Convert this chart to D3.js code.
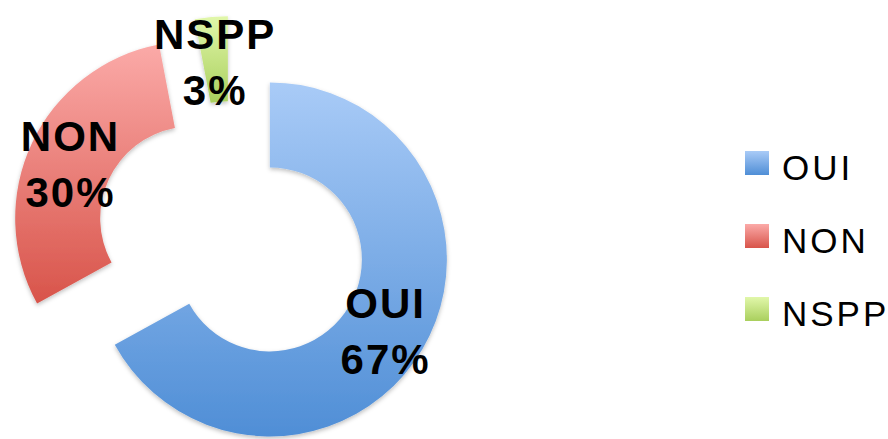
<!DOCTYPE html>
<html>
<head>
<meta charset="utf-8">
<script src="https://cdn.jsdelivr.net/npm/d3@7"></script>
<style>
  body { margin: 0; background: #fff; }
  svg { display: block; }
</style>
</head>
<body>
<svg id="chart" width="888" height="439"></svg>
<script>
const svg = d3.select("#chart"),
      width = +svg.attr("width"),
      height = +svg.attr("height");

// data
const categories = ["OUI", "NON", "NSPP"];
const values = [67, 30, 3];
const labels = ["67%", "30%", "3%"];
const topColors = ["#a9cbf7", "#fbaaa8", "#e1f7aa"];
const bottomColors = ["#4f8ed6", "#d8544a", "#a9cf5d"];

// geometry
const cx = 232, cy = 237;
const outerR = 177, innerR = 92;
const explode = 44;

const defs = svg.append("defs");

categories.forEach(function(c, i) {
  const g = defs.append("linearGradient")
      .attr("id", "grad" + i)
      .attr("x1", 0).attr("y1", 0)
      .attr("x2", 0).attr("y2", 1);
  g.append("stop").attr("offset", "0%").attr("stop-color", topColors[i]);
  g.append("stop").attr("offset", "100%").attr("stop-color", bottomColors[i]);
});

const shadow = defs.append("filter")
    .attr("id", "shadow")
    .attr("x", "-20%").attr("y", "-20%")
    .attr("width", "140%").attr("height", "140%");
shadow.append("feDropShadow")
    .attr("dx", 0).attr("dy", 2)
    .attr("stdDeviation", 2)
    .attr("flood-color", "#000")
    .attr("flood-opacity", 0.25);

const pie = d3.pie().sort(null).value(function(d) { return d; });
const arc = d3.arc().innerRadius(innerR).outerRadius(outerR);

const arcs = pie(values);

// Draw the exploded donut
const slices = svg.append("g")
    .selectAll("g")
    .data(arcs)
    .enter()
    .append("g")
    .attr("transform", function(d) {
      const mid = (d.startAngle + d.endAngle) / 2;
      const dx = Math.sin(mid) * explode,
            dy = -Math.cos(mid) * explode;
      return "translate(" + (cx + dx) + "," + (cy + dy) + ")";
    });

slices.append("path")
    .attr("d", arc)
    .attr("fill", function(d, i) { return "url(#grad" + i + ")"; })
    .attr("filter", "url(#shadow)");

// data labels
const lbl = slices.append("text")
    .attr("transform", function(d) {
      const c = arc.centroid(d);
      return "translate(" + c[0] + "," + c[1] + ")";
    })
    .attr("text-anchor", "middle")
    .style("font-family", "'Liberation Sans', Arial, sans-serif")
    .style("font-weight", "bold")
    .style("font-size", "42px")
    .style("letter-spacing", "2px")
    .attr("fill", "#000");

lbl.append("tspan")
    .attr("x", 0).attr("y", -10)
    .text(function(d, i) { return categories[i]; });
lbl.append("tspan")
    .attr("x", 0).attr("y", 46)
    .text(function(d, i) { return labels[i]; });

// legend
const legend = svg.append("g")
    .selectAll("g")
    .data(categories)
    .enter()
    .append("g")
    .attr("transform", function(d, i) { return "translate(745," + (151 + i * 73) + ")"; });

legend.append("rect")
    .attr("width", 24)
    .attr("height", 24)
    .attr("fill", function(d, i) { return "url(#grad" + i + ")"; });

legend.append("text")
    .attr("x", 37)
    .attr("y", 29)
    .style("font-family", "'Liberation Sans', Arial, sans-serif")
    .style("font-size", "35px")
    .style("letter-spacing", "3px")
    .attr("fill", "#000")
    .text(function(d) { return d; });
</script>
</body>
</html>
